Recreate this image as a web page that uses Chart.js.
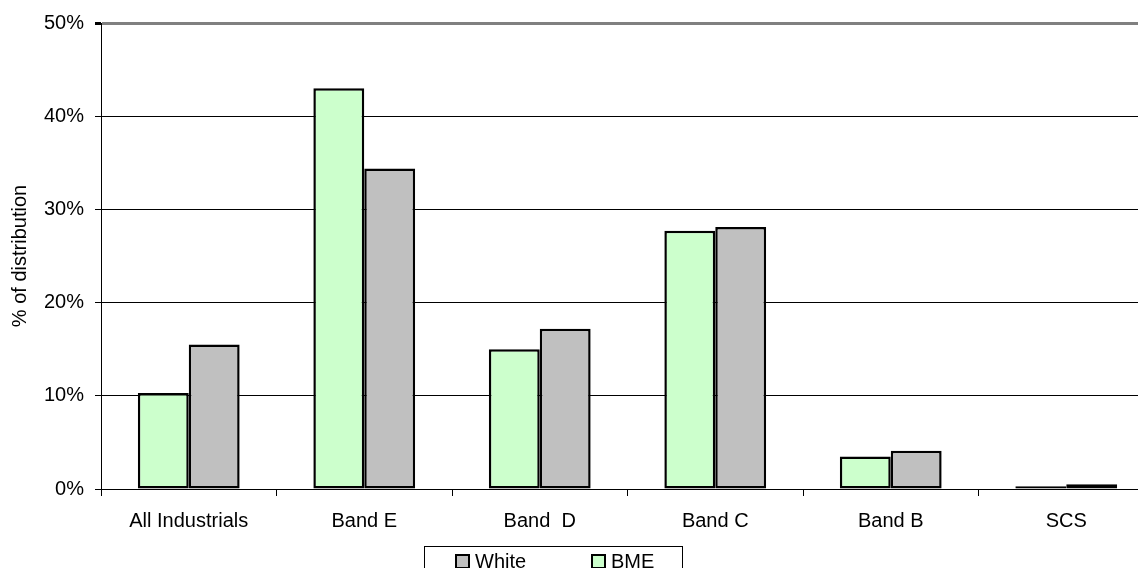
<!DOCTYPE html>
<html>
<head>
<meta charset="utf-8">
<script src="https://cdn.jsdelivr.net/npm/chart.js@4.4.1/dist/chart.umd.min.js"></script>
<style>
  html, body { margin: 0; padding: 0; background: #fff; overflow: hidden; }
  #wrap { position: relative; width: 1160px; height: 568px; }
  #legend {
    position: absolute; left: 424px; top: 546px; width: 257px; height: 40px;
    border: 1px solid #000; font: 20px "Liberation Sans", Arial, sans-serif; color: #000;
  }
  .item { position: absolute; top: 4px; line-height: 20px; white-space: nowrap; }
  .box { display: inline-block; width: 11px; height: 11px; border: 2px solid #000; margin-right: 5px; vertical-align: -1px; }
</style>
</head>
<body>
<div id="wrap">
  <canvas id="chart" width="1160" height="568"></canvas>
  <div id="legend"></div>
</div>
<script>
    const categories = ["All Industrials", "Band E", "Band  D", "Band C", "Band B", "SCS"];
    const bmeValues = [10.3, 43.0, 15.0, 27.7, 3.5, 0.3];
    const whiteValues = [15.5, 34.4, 17.2, 28.1, 4.1, 0.5];
    const yTicks = [0, 10, 20, 30, 40, 50];

    const font = { family: "'Liberation Sans', Arial, sans-serif", size: 20 };
    Chart.defaults.color = '#000';

    const ctx = document.getElementById('chart').getContext('2d');
    const chart = new Chart(ctx, {
      type: 'bar',
      data: {
        labels: categories,
        datasets: [
          { label: 'BME', data: bmeValues, backgroundColor: '#CCFFCC', borderColor: '#000', borderWidth: 2.5, borderSkipped: false },
          { label: 'White', data: whiteValues, backgroundColor: '#C0C0C0', borderColor: '#000', borderWidth: 2.5, borderSkipped: false }
        ]
      },
      options: {
        responsive: false,
        devicePixelRatio: 1,
        animation: false,
        layout: { padding: { top: 22, right: 6, bottom: 0, left: 0 } },
        datasets: { bar: { categoryPercentage: 0.58, barPercentage: 1 } },
        plugins: { legend: { display: false }, tooltip: { enabled: false } },
        scales: {
          x: {
            grid: { drawOnChartArea: false, drawTicks: true, tickLength: 7, color: '#000', offset: true },
            border: { color: '#000', width: 1 },
            ticks: { font: font, padding: 13, maxRotation: 0, autoSkip: false },
            afterFit: s => { s.height = 79; }
          },
          y: {
            min: 0, max: 50,
            afterBuildTicks: s => { s.ticks = yTicks.map(v => ({ value: v })); },
            grid: {
              color: c => (c.tick && c.tick.value === 50 ? '#808080' : '#000'),
              lineWidth: c => (c.tick && c.tick.value === 50 ? 3 : 1),
              tickColor: '#000', tickLength: 6
            },
            border: { color: '#000', width: 1 },
            ticks: { font: font, padding: 11, callback: v => v + '%' },
            title: { display: true, text: '% of distribution', font: font, padding: { top: 8, bottom: 0 } },
            afterFit: s => { s.width = 101; }
          }
        }
      }
    });

    // legend box, White listed first as in the original
    const legend = document.getElementById('legend');
    const legendItems = [
      { text: 'White', color: '#C0C0C0', left: 30 },
      { text: 'BME', color: '#CCFFCC', left: 166 }
    ];
    legendItems.forEach(it => {
      const d = document.createElement('span');
      d.className = 'item';
      d.style.left = it.left + 'px';
      d.innerHTML = '<span class="box" style="background:' + it.color + '"></span>' + it.text;
      legend.appendChild(d);
    });
</script>
</body>
</html>
